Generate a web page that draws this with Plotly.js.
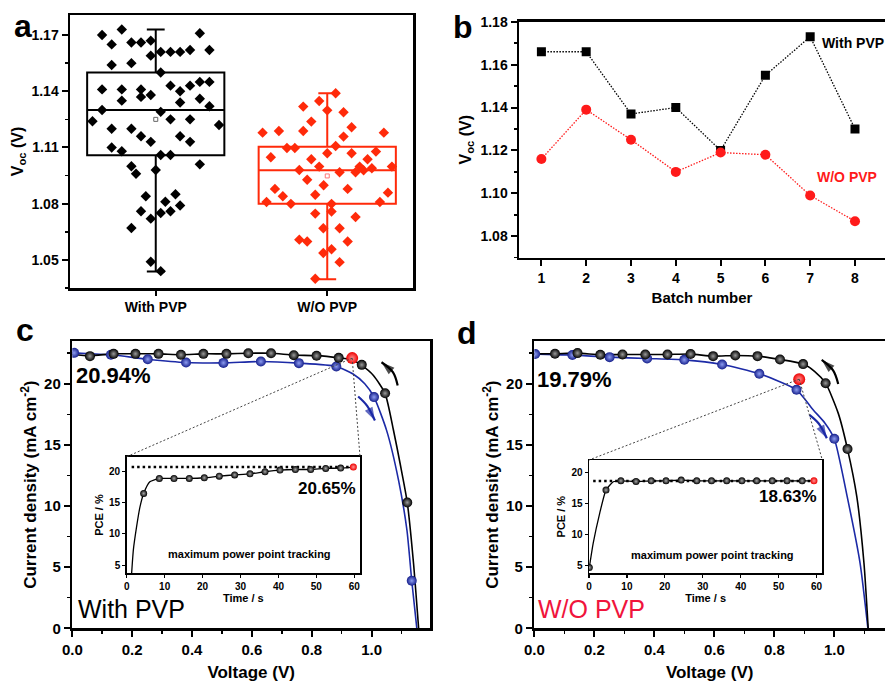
<!DOCTYPE html>
<html><head><meta charset="utf-8">
<script src="https://cdn.plot.ly/plotly-3.0.1.min.js"></script>
<style>html,body{margin:0;padding:0;background:#fff;overflow:hidden}#chart{width:885px;height:684px}</style>
</head><body><div id="chart"></div>
<script>
// ---------- Panel a: Voc distribution ----------
const groups = ['With PVP', 'W/O PVP'];
const withVoc = [1.170,1.165,1.173,1.166,1.166,1.167,1.171,1.154,1.155,1.159,1.161,1.161,1.161,1.162,1.162,1.150,
 1.141,1.141,1.141,1.135,1.137,1.138,1.143,1.140,1.143,1.145,1.145,1.134,1.136,1.132,1.130,1.129,1.124,1.125,1.125,
 1.122,1.120,1.120,1.116,1.116,1.113,1.113,1.110,1.108,1.106,1.106,1.100,1.101,1.096,1.098,1.084,1.085,1.081,1.079,
 1.076,1.076,1.075,1.072,1.067,1.049,1.044];
const withJitter = [-0.313,-0.257,-0.198,-0.142,-0.086,-0.029,0.257,-0.257,-0.142,-0.029,0.029,0.086,0.142,0.200,0.313,0.029,
 -0.313,-0.198,-0.086,-0.198,-0.086,-0.029,0.086,0.142,0.200,0.257,0.313,0.142,0.257,0.313,-0.313,0.029,-0.369,0.086,0.200,
 0.369,-0.257,-0.142,-0.086,0.142,-0.029,0.200,-0.257,-0.198,0.029,0.086,-0.142,0.257,-0.115,0,-0.058,0.115,0.056,0.142,
 -0.086,0.086,0.029,-0.029,-0.142,-0.029,0.029];
const woVoc = [1.1389,1.1348,1.1318,1.1288,1.1298,1.1238,1.1208,1.1179,1.1188,1.1188,1.1179,1.1158,1.1108,1.1097,1.1097,
 1.1069,1.1069,1.1078,1.1048,1.1037,1.1037,1.0998,1.0998,1.0980,1.0968,1.0968,1.0978,1.0989,1.0998,1.0928,1.0898,1.0879,
 1.0879,1.0840,1.0848,1.0859,1.0809,1.0799,1.0799,1.0809,1.0747,1.0758,1.0729,1.0669,1.0669,1.0608,1.0598,1.0598,1.0537,
 1.0557,1.0488,1.0399];
const woJitter = [0.049,-0.047,-0.140,0.095,0,-0.093,0.142,-0.377,-0.282,-0.140,0.330,0.095,0.049,-0.235,-0.189,
 0,0.142,0.284,-0.329,-0.093,0.235,-0.047,0.189,-0.163,0.072,0.165,0.212,0.260,0.377,-0.117,-0.021,-0.305,
 0.119,-0.259,-0.070,0.354,-0.354,-0.212,0.025,0.307,-0.070,0.025,0.165,-0.023,0.072,-0.163,-0.117,0.119,-0.023,
 0.025,0.072,-0.070];
// [lower whisker, q1, median, q3, upper whisker, mean]
const withStats = [1.0438, 1.1058, 1.130, 1.150, 1.1729, 1.125];
const woStats   = [1.0397, 1.0800, 1.0978, 1.1104, 1.1389, 1.0948];

// ---------- Panel b: batches ----------
const batches = [1,2,3,4,5,6,7,8];
const batchWith = [1.166,1.166,1.137,1.140,1.120,1.155,1.173,1.130];
const batchWo   = [1.116,1.139,1.125,1.110,1.119,1.118,1.099,1.087];

// ---------- Panel c: J-V with PVP ----------
const cRevLineV = [0,0.059,0.138,0.211,0.288,0.363,0.438,0.515,0.588,0.664,0.740,0.816,0.890,0.935,0.967,1.006,1.045,1.073,1.095,1.119,1.140,1.157];
const cRevLineJ = [22.4,22.3,22.45,22.45,22.45,22.38,22.45,22.45,22.5,22.5,22.35,22.3,22.12,21.95,21.5,20.68,19.2,16.2,13.5,10.3,5.3,0];
const cRevPtV = [0.059,0.138,0.211,0.288,0.363,0.438,0.515,0.588,0.664,0.740,0.816,0.890,0.967,1.045,1.119];
const cRevPtJ = [22.26,22.45,22.45,22.45,22.37,22.45,22.45,22.5,22.5,22.34,22.29,22.12,21.55,19.22,10.29];
const cFwdLineV = [0,0.006,0.129,0.252,0.380,0.505,0.630,0.757,0.882,0.938,0.977,1.008,1.050,1.090,1.118,1.134,1.151];
const cFwdLineJ = [22.55,22.53,22.37,22.01,21.74,21.71,21.82,21.69,21.42,20.8,20.0,18.91,16.19,12.1,8.02,3.89,0];
const cFwdPtV = [0.006,0.129,0.252,0.380,0.505,0.630,0.757,0.882,1.008,1.134];
const cFwdPtJ = [22.53,22.37,22.01,21.74,21.71,21.82,21.69,21.42,18.91,3.89];
const cMpp = [0.935, 22.1];
// MPP tracking inset (c)
const cTrackLineT = [1.3,1.75,2.6,3.5,4.47,6.1,8.6,12.47,16.5,20.46,24.4,28.46,32.5,36.46,40.4,44.46,48.5,52.46,56.4,59.75];
const cTrackLineP = [3.7,7.4,11.1,14.3,16.44,18.3,18.83,18.83,18.83,18.94,19.2,19.4,19.57,19.9,20.16,20.26,20.26,20.43,20.48,20.64];
const cTrackPtT = [4.47,8.6,12.47,16.5,20.46,24.4,28.46,32.5,36.46,40.4,44.46,48.5,52.46,56.4];
const cTrackPtP = [16.44,18.83,18.83,18.83,18.94,19.2,19.4,19.57,19.9,20.16,20.26,20.26,20.43,20.48];
const cTrackEnd = [59.75, 20.65];
const cRefT = [1.3, 59.75];
const cRefP = [20.65, 20.65];

// ---------- Panel d: J-V without PVP ----------
const dRevLineV = [0,0.069,0.144,0.220,0.294,0.370,0.444,0.521,0.596,0.670,0.744,0.819,0.896,0.935,0.971,1.013,1.044,1.075,1.099,1.113];
const dRevLineJ = [22.45,22.46,22.51,22.37,22.40,22.40,22.40,22.43,22.26,22.32,22.26,21.99,21.61,21.0,20.05,17.6,14.66,10.77,5.3,0];
const dRevPtV = [0.069,0.144,0.220,0.294,0.370,0.444,0.521,0.596,0.670,0.744,0.819,0.896,0.971,1.044];
const dRevPtJ = [22.46,22.51,22.37,22.40,22.40,22.40,22.43,22.26,22.32,22.26,21.99,21.61,20.05,14.66];
const dFwdLineV = [0,0.003,0.127,0.251,0.376,0.500,0.626,0.750,0.874,0.930,0.969,1.000,1.043,1.086,1.112];
const dFwdLineJ = [22.45,22.43,22.35,22.18,22.07,21.96,21.58,20.82,19.51,17.86,16.78,15.5,10.77,5.32,0];
const dFwdPtV = [0.003,0.127,0.251,0.376,0.500,0.626,0.750,0.874,1.000];
const dFwdPtJ = [22.43,22.35,22.18,22.07,21.96,21.58,20.82,19.51,15.5];
const dMpp = [0.883, 20.38];
const dTrackLineT = [0.08,1.1,2.8,4.48,6.4,8.4,12.39,16.4,20.3,24.3,28.4,32.3,36.3,40.3,44.2,48.3,52.2,56.2,59.3];
const dTrackLineP = [4.72,8.6,13.4,17.17,18.5,18.66,18.55,18.66,18.66,18.77,18.66,18.66,18.66,18.66,18.66,18.66,18.66,18.66,18.66];
const dTrackPtT = [0.08,4.48,8.4,12.39,16.4,20.3,24.3,28.4,32.3,36.3,40.3,44.2,48.3,52.2,56.2];
const dTrackPtP = [4.72,17.17,18.66,18.55,18.66,18.66,18.77,18.66,18.66,18.66,18.66,18.66,18.66,18.66,18.66];
const dTrackEnd = [59.3, 18.66];
const dRefT = [1.1, 59.3];
const dRefP = [18.63, 18.63];

// ---------- layout helpers ----------
const W = 885, H = 684;
const F = 'Liberation Sans, Arial, Helvetica, sans-serif';
const px = x => x / W, py = y => 1 - y / H;
const BOX = {
  a:  {x:[70,413],     y:[15,288]},
  b:  {x:[519,885],    y:[21.7,257.7]},
  c:  {x:[72.3,430],   y:[341,628.3]},
  ci: {x:[126.7,360],  y:[456.7,573.3]},
  d:  {x:[534.3,885],  y:[341,628.3]},
  di: {x:[589,822.3],  y:[460,573.3]}
};
const RANGE = {
  c: {x:[0,1.195], y:[0,23.5]},
  d: {x:[0,1.169], y:[0,23.5]}
};
// scan-direction arrow paths (tail, bend, head) in panel data units
const cArrowRev = [[1.087,1.071,1.033],[19.86,20.95,21.76]];
const cArrowFwd = [[0.955,0.985,1.011],[18.96,18.2,17.0]];
const dArrowRev = [[1.013,0.996,0.958],[19.99,21.1,21.96]];
const dArrowFwd = [[0.917,0.948,0.975],[17.46,16.75,15.55]];

const dx = b => [px(b.x[0]), Math.min(1, px(b.x[1]))];
const dy = b => [py(b.y[1]), py(b.y[0])];
const pxToX = (p, b, r) => r[0] + (p - b.x[0]) / (b.x[1] - b.x[0]) * (r[1] - r[0]);
const pxToY = (p, b, r) => r[0] + (b.y[1] - p) / (b.y[1] - b.y[0]) * (r[1] - r[0]);

const tf = (s) => ({family: F, size: s, color: '#000', weight: 'bold'});
function ax(o) {
  return Object.assign({
    showgrid: false, zeroline: false, showline: true, linecolor: '#000', linewidth: 2.5,
    ticks: 'outside', ticklen: 6, tickwidth: 2, tickcolor: '#000', mirror: true,
    tickfont: tf(14), fixedrange: true
  }, o);
}
const sphere = (c, g, s) => ({symbol: 'circle', size: s, color: c, gradient: {type: 'radial', color: g}, line: {width: 0}});

const traces = [];
// Panel a
const red = '#ff2a0a';
traces.push({type:'box', x:[1], lowerfence:[withStats[0]], q1:[withStats[1]], median:[withStats[2]], q3:[withStats[3]], upperfence:[withStats[4]],
  width:0.8, whiskerwidth:0.13, line:{color:'#000', width:2}, fillcolor:'rgba(0,0,0,0)', boxpoints:false, xaxis:'x', yaxis:'y', hoverinfo:'skip'});
traces.push({type:'box', x:[2], lowerfence:[woStats[0]], q1:[woStats[1]], median:[woStats[2]], q3:[woStats[3]], upperfence:[woStats[4]],
  width:0.8, whiskerwidth:0.13, line:{color:red, width:2}, fillcolor:'rgba(0,0,0,0)', boxpoints:false, xaxis:'x', yaxis:'y', hoverinfo:'skip'});
traces.push({type:'scatter', mode:'markers', x: withVoc.map((v,i)=>1+withJitter[i]), y: withVoc, marker:{symbol:'diamond', size:8, color:'#000'}, xaxis:'x', yaxis:'y'});
traces.push({type:'scatter', mode:'markers', x: woVoc.map((v,i)=>2+woJitter[i]), y: woVoc, marker:{symbol:'diamond', size:8, color:red}, xaxis:'x', yaxis:'y'});
traces.push({type:'scatter', mode:'markers', x:[1,2], y:[withStats[5], woStats[5]], marker:{symbol:'square-open', size:4, color:['#666','#f77'], line:{width:1}}, xaxis:'x', yaxis:'y'});

// Panel b
traces.push({type:'scatter', mode:'lines+markers', x:batches, y:batchWith, line:{color:'#000', width:1.3, dash:'1.5px,1.5px'}, marker:{symbol:'square', size:9, color:'#000'}, xaxis:'x2', yaxis:'y2'});
traces.push({type:'scatter', mode:'lines+markers', x:batches, y:batchWo, line:{color:'#ff1a1a', width:1.3, dash:'1.5px,1.5px'}, marker:{symbol:'circle', size:10, color:'#ff1a1a'}, xaxis:'x2', yaxis:'y2'});

const blue = '#1c2aa6';
function jvTraces(xa, ya, fl, fp, rl, rp, mpp) {
  traces.push({type:'scatter', mode:'lines', x:fl[0], y:fl[1], line:{color:blue, width:1.6, shape:'spline', smoothing:0.6}, xaxis:xa, yaxis:ya});
  traces.push({type:'scatter', mode:'lines', x:rl[0], y:rl[1], line:{color:'#000', width:1.6, shape:'spline', smoothing:0.6}, xaxis:xa, yaxis:ya});
  traces.push({type:'scatter', mode:'markers', x:fp[0], y:fp[1], marker:sphere('#16208c', '#8d9cf0', 10), xaxis:xa, yaxis:ya});
  traces.push({type:'scatter', mode:'markers', x:rp[0], y:rp[1], marker:sphere('#000', '#9a9a9a', 10), xaxis:xa, yaxis:ya});
  traces.push({type:'scatter', mode:'markers', x:[mpp[0]], y:[mpp[1]], marker:sphere('#ee0000', '#ff9090', 12), xaxis:xa, yaxis:ya});
}
function trackTraces(xa, ya, lt, lp, pt, pp, end, rt, rp) {
  traces.push({type:'scatter', mode:'lines', x:rt, y:rp, line:{color:'#000', width:2.5, dash:'2.5px,3px'}, xaxis:xa, yaxis:ya});
  traces.push({type:'scatter', mode:'lines', x:lt, y:lp, line:{color:'#000', width:1.3, shape:'spline', smoothing:0.5}, xaxis:xa, yaxis:ya});
  traces.push({type:'scatter', mode:'markers', x:pt, y:pp, marker:sphere('#000', '#a8a8a8', 7), xaxis:xa, yaxis:ya});
  traces.push({type:'scatter', mode:'markers', x:[end[0]], y:[end[1]], marker:sphere('#ee0000', '#ff9090', 7), xaxis:xa, yaxis:ya});
}
function arrowTrace(xa, ya, path, color) {
  traces.push({type:'scatter', mode:'lines+markers', x:path[0], y:path[1], xaxis:xa, yaxis:ya,
    line:{color:color, width:2.2, shape:'spline', smoothing:1},
    marker:{symbol:'arrow', angleref:'previous', size:[0,0,14], color:color, line:{width:0}}});
}
jvTraces('x3','y3',[cFwdLineV,cFwdLineJ],[cFwdPtV,cFwdPtJ],[cRevLineV,cRevLineJ],[cRevPtV,cRevPtJ],cMpp);
trackTraces('x4','y4',cTrackLineT,cTrackLineP,cTrackPtT,cTrackPtP,cTrackEnd,cRefT,cRefP);
jvTraces('x5','y5',[dFwdLineV,dFwdLineJ],[dFwdPtV,dFwdPtJ],[dRevLineV,dRevLineJ],[dRevPtV,dRevPtJ],dMpp);
trackTraces('x6','y6',dTrackLineT,dTrackLineP,dTrackPtT,dTrackPtP,dTrackEnd,dRefT,dRefP);
arrowTrace('x3','y3',cArrowRev,'#000');
arrowTrace('x3','y3',cArrowFwd,blue);
arrowTrace('x5','y5',dArrowRev,'#000');
arrowTrace('x5','y5',dArrowFwd,blue);

const layout = {
  width: W, height: H, margin: {l:0, r:0, t:0, b:0}, showlegend: false,
  paper_bgcolor: '#fff', plot_bgcolor: '#fff', hovermode: false,
  font: {family: F, color: '#000'},
  xaxis: ax({domain: dx(BOX.a), anchor:'y', range:[0.5,2.5], tickvals:[1,2], ticktext:groups, ticklen:5}),
  yaxis: ax({domain: dy(BOX.a), anchor:'x', range:[1.035,1.1807], tick0:1.05, dtick:0.03, tickformat:'.2f',
    minor:{tick0:1.05, dtick:0.015, ticklen:3, tickwidth:1.5, tickcolor:'#000', ticks:'outside'},
    title:{text:'V<sub>oc</sub> (V)', font:tf(16), standoff:4}}),
  xaxis2: ax({domain: dx(BOX.b), anchor:'y2', range:[0.5,8.67], tick0:1, dtick:1,
    title:{text:'Batch number', font:tf(15), standoff:8}}),
  yaxis2: ax({domain: dy(BOX.b), anchor:'x2', mirror:false, range:[1.07,1.18], tick0:1.08, dtick:0.02, tickformat:'.2f',
    minor:{tick0:1.07, dtick:0.01, ticklen:3, tickwidth:1.5, tickcolor:'#000', ticks:'outside'},
    title:{text:'V<sub>oc</sub> (V)', font:tf(16), standoff:5}}),
  xaxis3: ax({domain: dx(BOX.c), anchor:'y3', range:RANGE.c.x, tick0:0, dtick:0.2, tickformat:'.1f', tickfont:tf(15),
    minor:{dtick:0.1, ticklen:3, tickwidth:1.5, tickcolor:'#000', ticks:'outside'},
    title:{text:'Voltage (V)', font:tf(17), standoff:10}}),
  yaxis3: ax({domain: dy(BOX.c), anchor:'x3', range:RANGE.c.y, tick0:0, dtick:5, tickfont:tf(15),
    minor:{dtick:2.5, ticklen:3, tickwidth:1.5, tickcolor:'#000', ticks:'outside'},
    title:{text:'Current density (mA cm<sup>-2</sup>)', font:tf(17), standoff:3}}),
  xaxis4: ax({domain: dx(BOX.ci), anchor:'y4', range:[0,61.5], tick0:0, dtick:10, linewidth:1.5, ticklen:3, tickwidth:1.2, tickfont:tf(10),
    title:{text:'Time / s', font:tf(11), standoff:2}}),
  yaxis4: ax({domain: dy(BOX.ci), anchor:'x4', range:[3.7,22.3], tick0:5, dtick:5, linewidth:1.5, ticklen:3, tickwidth:1.2, tickfont:tf(10),
    title:{text:'PCE / %', font:tf(11), standoff:3}}),
  xaxis5: ax({domain: dx(BOX.d), anchor:'y5', range:RANGE.d.x, tick0:0, dtick:0.2, tickformat:'.1f', tickfont:tf(15),
    minor:{dtick:0.1, ticklen:3, tickwidth:1.5, tickcolor:'#000', ticks:'outside'},
    title:{text:'Voltage (V)', font:tf(17), standoff:10}}),
  yaxis5: ax({domain: dy(BOX.d), anchor:'x5', mirror:false, range:RANGE.d.y, tick0:0, dtick:5, tickfont:tf(15),
    minor:{dtick:2.5, ticklen:3, tickwidth:1.5, tickcolor:'#000', ticks:'outside'},
    title:{text:'Current density (mA cm<sup>-2</sup>)', font:tf(17), standoff:3}}),
  xaxis6: ax({domain: dx(BOX.di), anchor:'y6', range:[0,61.5], tick0:0, dtick:10, linewidth:1.5, ticklen:3, tickwidth:1.2, tickfont:tf(10),
    title:{text:'Time / s', font:tf(11), standoff:2}}),
  yaxis6: ax({domain: dy(BOX.di), anchor:'x6', range:[3.8,22.0], tick0:5, dtick:5, linewidth:1.5, ticklen:3, tickwidth:1.2, tickfont:tf(10),
    title:{text:'PCE / %', font:tf(11), standoff:3}}),
  shapes: [], annotations: []
};

// connector lines from MPP point to inset corners
function connectors(xr, yr, b, r, ib, mpp) {
  const yTop = pxToY(ib.y[0], b, r.y);
  [ib.x[0], ib.x[1]].forEach(p => {
    layout.shapes.push({type:'line', xref:xr, yref:yr, x0:mpp[0], y0:mpp[1], x1:pxToX(p, b, r.x), y1:yTop,
      line:{color:'#444', width:1, dash:'2px,2px'}});
  });
}
connectors('x3','y3',BOX.c,RANGE.c,BOX.ci,cMpp);
connectors('x5','y5',BOX.d,RANGE.d,BOX.di,dMpp);

const A = layout.annotations;
function txt(t, x, y, size, opts) {
  A.push(Object.assign({text:t, xref:'paper', yref:'paper', x:px(x), y:py(y), showarrow:false, xanchor:'left', yanchor:'middle',
    font:{family:F, size:size, color:'#000', weight:'bold'}}, opts || {}));
}
txt('a', 12, 26, 32);
txt('b', 451, 27, 32);
txt('c', 14, 330, 32);
txt('d', 455, 333, 32);
txt('With PVP', 820, 43, 14);
txt('W/O PVP', 815, 177, 14, {font:{family:F, size:14, color:'#ff1a1a', weight:'bold'}});
txt('20.94%', 74, 375, 22);
txt('With PVP', 76, 609, 25, {font:{family:F, size:25, color:'#000', weight:'normal'}});
txt('20.65%', 358, 488, 17, {xanchor:'right'});
txt('maximum power point tracking', 249, 554, 11, {xanchor:'center'});
txt('19.79%', 535, 379, 22);
txt('W/O PVP', 536, 609, 25, {font:{family:F, size:25, color:'#f0143c', weight:'normal'}});
txt('18.63%', 819, 496, 17, {xanchor:'right'});
txt('maximum power point tracking', 712, 555, 11, {xanchor:'center'});

Plotly.newPlot('chart', traces, layout, {staticPlot:true, displayModeBar:false});
</script>
</body></html>
